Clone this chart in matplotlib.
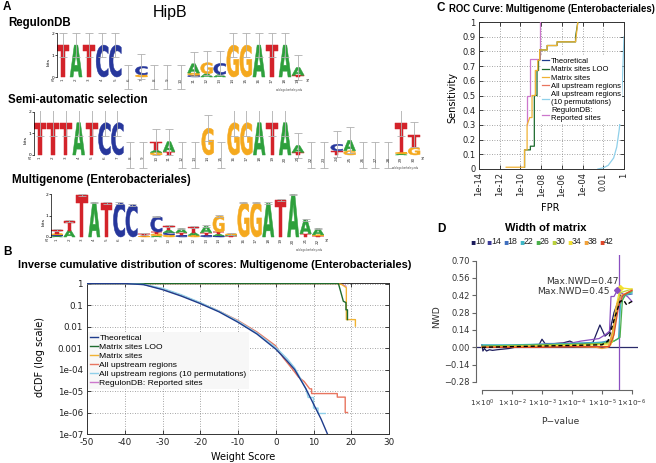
import numpy as np
import matplotlib
matplotlib.use('Agg')
import matplotlib.pyplot as plt
from matplotlib.textpath import TextPath
from matplotlib.patches import PathPatch
from matplotlib.font_manager import FontProperties
from matplotlib.transforms import Affine2D
from matplotlib.lines import Line2D

plt.rcParams['axes.unicode_minus'] = False
plt.rcParams['font.family'] = ['DejaVu Sans']

# ---------------- data ----------------
# Panel A: sequence logos, stacks listed bottom -> top as (letter, bits)
regulondb_stacks = [
    [("T", 1.45)], [("A", 1.45)], [("T", 1.45)], [("C", 1.45)], [("C", 1.45)],
    [], [("G", 0.1), ("C", 0.38)], [], [], [],
    [("C", 0.08), ("G", 0.1), ("A", 0.42)], [("A", 0.15), ("G", 0.5)], [("A", 0.12), ("C", 0.5)],
    [("G", 1.45)], [("G", 1.45)], [("A", 1.45)], [("T", 1.45)], [("A", 1.45)],
    [("T", 0.08), ("A", 0.35)],
]
regulondb_err = 0.55

semi_stacks = [
    [("T", 1.5)], [("T", 1.5)], [("T", 1.5)], [("A", 1.5)], [("T", 1.5)], [("C", 1.5)], [("C", 1.5)],
    [], [], [("G", 0.12), ("A", 0.1), ("T", 0.4)], [("T", 0.15), ("A", 0.47)], [], [],
    [("G", 1.25)], [], [("G", 1.5)], [("G", 1.5)], [("A", 1.5)], [("T", 1.5)], [("A", 1.5)],
    [("T", 0.12), ("A", 0.32)], [], [], [("T", 0.2), ("C", 0.3)], [("G", 0.2), ("A", 0.48)],
    [], [], [], [("A", 0.05), ("G", 0.08), ("T", 1.35)], [("G", 0.35), ("T", 0.6)],
]
semi_err = 0.6

multi_stacks = [
    [("A", 0.05), ("C", 0.05), ("G", 0.05), ("T", 0.18)],
    [("A", 0.3), ("T", 0.45)],
    [("T", 1.95)], [("A", 1.6)], [("T", 1.58)], [("C", 1.58)], [("C", 1.5)],
    [("G", 0.05), ("T", 0.1)],
    [("A", 0.05), ("G", 0.1), ("T", 0.08), ("C", 0.72)],
    [("G", 0.1), ("C", 0.1), ("A", 0.12), ("T", 0.2)],
    [("C", 0.08), ("T", 0.12), ("A", 0.2)],
    [("G", 0.08), ("A", 0.12), ("T", 0.25)],
    [("C", 0.08), ("T", 0.12), ("A", 0.3)],
    [("C", 0.05), ("A", 0.08), ("T", 0.1), ("G", 0.75)],
    [("T", 0.05), ("A", 0.05), ("G", 0.05)],
    [("G", 1.6)], [("G", 1.6)], [("A", 1.57)], [("T", 1.72)], [("A", 1.98)],
    [("T", 0.15), ("A", 0.65)],
    [("T", 0.05), ("G", 0.05), ("A", 0.3)],
]
multi_err = 0.04

# Panel B: inverse cumulative distribution (dCDF)
theo_score = [-50, -40, -35, -30, -25, -20, -15, -10, -5, 0, 3, 5, 8, 10, 12, 13.7]
theo_dcdf = [1.0, 1.0, 0.89, 0.52, 0.26, 0.117, 0.048, 0.0158, 0.0045, 8.9e-4, 2.5e-4,
             1.0e-4, 1.26e-5, 2.5e-6, 5e-7, 1e-7]
loo_score = [-50, 16.6, 17.2, 17.9, 18.6, 18.6, 19.0, 19.0]
loo_dcdf = [1.0, 1.0, 0.42, 0.15, 0.13, 0.06, 0.06, 0.021]
matrix_score = [-50, 16.1, 17.5, 18.7, 18.7, 21.1, 21.1]
matrix_dcdf = [1.0, 1.0, 0.9, 0.64, 0.021, 0.021, 0.0105]
upstream_score = [-50, -40, -35, -30, -25, -20, -15, -10, -5, 0, 2, 4.5, 6, 7.5, 9, 9.5, 9.5,
                  16.3, 16.3, 18.4, 18.4, 19]
upstream_dcdf = [1.0, 1.0, 0.91, 0.56, 0.28, 0.126, 0.052, 0.019, 0.0056, 1.26e-3, 3.5e-4,
                 1e-4, 4.5e-5, 2.8e-5, 1.26e-5, 1.26e-5, 7.6e-6, 7.6e-6, 5.2e-6, 5.2e-6, 1e-6, 1e-6]
perm_score = [-50, -40, -35, -30, -25, -20, -15, -10, -5, 0, 3, 5, 6.5, 8, 8.6, 10, 10,
              11.2, 11.2, 13.1]
perm_dcdf = [1.0, 1.0, 0.91, 0.6, 0.3, 0.13, 0.052, 0.0178, 0.005, 1.07e-3, 3.2e-4, 1.2e-4,
             4e-5, 1.26e-5, 5e-6, 5e-6, 1.6e-6, 1.6e-6, 9e-7, 9e-7]
reg_score = [-50, 17.5, 18.2, 18.6]
reg_dcdf = [1.0, 1.0, 0.8, 0.75]
b_labels = ["Theoretical", "Matrix sites LOO", "Matrix sites", "All upstream regions",
            "All upstream regions (10 permutations)", "RegulonDB: Reported sites"]
b_xticks = [-50, -40, -30, -20, -10, 0, 10, 20, 30]
b_yticks = [1, 0.1, 0.01, 0.001, 1e-4, 1e-5, 1e-6, 1e-7]
b_yticklabels = ["1", "0.1", "0.01", "0.001", "1e-04", "1e-05", "1e-06", "1e-07"]

# Panel C: ROC curve
roc_matrix_fpr = [4.2e-12, 2.5e-10, 2.5e-10, 4.4e-10, 4.4e-10, 7.9e-10, 1.32e-9, 1.32e-9,
                  2.75e-9, 2.75e-9, 4.7e-9, 4.7e-9, 7.2e-9, 7.2e-9, 3.8e-8, 3.8e-8,
                  3.5e-7, 3.5e-7, 2.1e-5, 3.5e-5]
roc_matrix_sens = [0.012, 0.012, 0.13, 0.13, 0.3, 0.35, 0.35, 0.5, 0.5, 0.67, 0.67, 0.74,
                   0.74, 0.81, 0.81, 0.84, 0.84, 0.865, 0.865, 1.0]
roc_loo_fpr = [2.5e-10, 2.5e-10, 9.1e-10, 9.1e-10, 2.2e-9, 2.2e-9, 4.0e-9, 4.0e-9, 5.6e-9,
               5.6e-9, 7.2e-9, 7.2e-9, 3.8e-8, 3.8e-8, 3.5e-7, 3.5e-7, 2.1e-5, 2.1e-5, 3.5e-5]
roc_loo_sens = [0.012, 0.13, 0.13, 0.155, 0.155, 0.5, 0.5, 0.67, 0.67, 0.74, 0.74, 0.81, 0.81,
                0.84, 0.84, 0.865, 0.865, 0.9, 1.0]
roc_reg_fpr = [4.4e-10, 4.4e-10, 8.9e-10, 8.9e-10, 7.2e-9, 7.2e-9]
roc_reg_sens = [0.3, 0.5, 0.5, 0.75, 0.75, 1.0]
roc_perm_fpr = [0.003, 0.01, 0.03, 0.1, 0.2, 0.35, 0.5, 0.7, 1.0]
roc_perm_sens = [0.0, 0.008, 0.025, 0.075, 0.15, 0.27, 0.4, 0.6, 0.9]
c_labels = ["Theoretical", "Matrix sites LOO", "Matrix sites", "All upstream regions",
            "All upstream regions\n(10 permutations)", "RegulonDB:\nReported sites"]
c_xticks = [1e-14, 1e-12, 1e-10, 1e-8, 1e-6, 1e-4, 1e-2, 1]
c_xticklabels = ["1e-14", "1e-12", "1e-10", "1e-08", "1e-06", "1e-04", "0.01", "1"]
c_yticks = [0, 0.1, 0.2, 0.3, 0.4, 0.5, 0.6, 0.7, 0.8, 0.9, 1]
c_yticklabels = ["0", "0.1", "0.2", "0.3", "0.4", "0.5", "0.6", "0.7", "0.8", "0.9", "1"]

# Panel D: NWD vs P-value per matrix width
d_widths = [10, 14, 18, 22, 26, 30, 34, 38, 42]
d_t = {
    10: [0, 0.03, 0.08, 0.15, 0.25, 0.35, 0.5, 0.7, 0.9, 1.1, 1.4, 1.7, 1.9, 2.0, 2.1, 2.4, 2.7,
         2.93, 3.1, 3.4, 3.7, 3.93, 4.1, 4.25, 4.4, 4.55, 4.62],
    14: [0, 0.5, 1, 1.5, 2, 2.5, 3, 3.3, 3.6, 3.9, 4.1, 4.25, 4.3, 4.4, 4.51, 4.7, 4.85, 5.0],
    18: [0, 1, 2, 3, 3.5, 4, 4.3, 4.45, 4.6, 4.75, 5.0],
    22: [0, 1, 2, 3, 4, 4.4, 4.55, 4.62, 4.75, 5.0],
    26: [0, 1, 2, 3, 4, 4.4, 4.6, 4.68, 4.8, 5.0],
    30: [0, 1, 2, 3, 4, 4.35, 4.5, 4.6, 5.0],
    34: [0, 1, 2, 3, 4, 4.3, 4.45, 4.6, 5.0],
    38: [0, 1, 2, 3, 3.8, 4.0, 4.2, 4.35, 4.5, 4.65, 5.0],
    42: [0, 1, 2, 3, 4, 4.25, 4.4, 4.55, 4.7, 5.0],
}
d_nwd = {
    10: [0.02, -0.03, -0.01, -0.03, -0.02, -0.025, -0.02, -0.015, -0.01, 0.0, 0.005, 0.015, 0.02,
         0.065, 0.03, 0.03, 0.035, 0.05, 0.03, 0.03, 0.04, 0.18, 0.09, 0.12, 0.28, 0.38, 0.42],
    14: [0.01, 0.01, 0.015, 0.02, 0.025, 0.03, 0.035, 0.05, 0.06, 0.07, 0.1, 0.13, 0.41, 0.41,
         0.46, 0.43, 0.41, 0.37],
    18: [0.0, 0.01, 0.02, 0.03, 0.035, 0.04, 0.06, 0.25, 0.40, 0.42, 0.43],
    22: [0.02, 0.02, 0.025, 0.03, 0.04, 0.05, 0.07, 0.35, 0.42, 0.44],
    26: [0.01, 0.015, 0.02, 0.025, 0.03, 0.05, 0.08, 0.38, 0.43, 0.45],
    30: [0.005, 0.01, 0.015, 0.02, 0.025, 0.04, 0.3, 0.44, 0.47],
    34: [0.0, 0.005, 0.01, 0.015, 0.02, 0.02, 0.3, 0.48, 0.47],
    38: [0.0, 0.0, 0.005, 0.005, 0.0, -0.01, 0.0, 0.12, 0.35, 0.42, 0.46],
    42: [0.0, 0.0, 0.0, 0.005, 0.005, 0.005, 0.1, 0.33, 0.42, 0.46],
}
d_colors = {10: '#1c1c5c', 14: '#8a4fc0', 18: '#3f6fbf', 22: '#3fb7c7', 26: '#4bb04b',
            30: '#b9d13c', 34: '#f2e02f', 38: '#f2a23a', 42: '#e0482a'}
d_legend_colors = {10: '#1c1c5c', 14: '#3b3b9a', 18: '#3f6fbf', 22: '#3fb7c7', 26: '#4bb04b',
                   30: '#b9d13c', 34: '#f2e02f', 38: '#f2a23a', 42: '#e0482a'}
d_mean_t = [0, 1, 2, 3, 4, 4.2, 4.4, 4.6, 4.72, 4.83, 4.92, 5.0]
d_mean_nwd = [0.0, 0.005, 0.01, 0.015, 0.02, 0.05, 0.22, 0.37, 0.38, 0.34, 0.36, 0.37]
d_max_points = [(4.6, 0.48, '#f2e02f', "Max.NWD=0.47"), (4.51, 0.46, '#8a4fc0', "Max.NWD=0.45")]
d_best_t = 4.57
d_xtick_pos = [0, 1, 2, 3, 4, 5]
d_xtick_exp = [0, -2, -3, -4, -5, -6]
d_yticks = [-0.28, -0.14, 0.0, 0.14, 0.28, 0.42, 0.56, 0.70]

# ---------------- figure ----------------
W, H = 656, 463
fig = plt.figure(figsize=(W / 100, H / 100), dpi=100)


def px_axes(x0, y0, x1, y1):
    return fig.add_axes([x0 / W, 1 - y1 / H, (x1 - x0) / W, (y1 - y0) / H])


def ftext(x, y, s, **kw):
    return fig.text(x / W, 1 - y / H, s, **kw)


ARIAL = 'Liberation Sans'
NARROW = dict(family=ARIAL)

LOGO_COLORS = {'A': '#2ea03c', 'C': '#27379c', 'G': '#f5a91e', 'T': '#d3232a'}
letter_fp = FontProperties(family='DejaVu Sans', weight='bold')
_paths = {}


def letter_path(ch):
    if ch not in _paths:
        _paths[ch] = TextPath((0, 0), ch, size=1, prop=letter_fp)
    return _paths[ch]


def draw_logo(ax, stacks, err, npos_label_size=3.0):
    for i, stack in enumerate(stacks, start=1):
        base = 0.0
        for ch, h in stack:
            p = letter_path(ch)
            ext = p.get_extents()
            tr = (Affine2D().translate(-ext.x0, -ext.y0)
                  .scale(0.92 / ext.width, h / ext.height).translate(i - 0.46, base))
            ax.add_patch(PathPatch(tr.transform_path(p), facecolor=LOGO_COLORS[ch],
                                   edgecolor=LOGO_COLORS[ch], linewidth=0.35, zorder=2))
            base += h
        ax.errorbar([i], [base], yerr=[err], fmt='none', ecolor='#b0b0b0', elinewidth=0.6,
                    capsize=2.6, capthick=0.6, zorder=3)
        ax.text(i, -0.06, str(i), rotation=90, ha='center', va='top',
                fontsize=npos_label_size, color='#333333', zorder=4)
    n = len(stacks)
    ax.set_xlim(0.55, n + 0.6)
    ax.set_ylim(-0.7, 2.05)
    for s in ['top', 'right', 'bottom']:
        ax.spines[s].set_visible(False)
    ax.spines['left'].set_bounds(0, 2)
    ax.spines['left'].set_linewidth(0.5)
    ax.set_xticks([])
    ax.set_yticks([0, 1, 2])
    ax.set_yticklabels(['0', '1', '2'])
    ax.tick_params(axis='y', labelsize=3.2, length=1.5, width=0.5, pad=0.5)
    ax.set_ylabel('bits', fontsize=3.2, labelpad=0.5)
    ax.text(0.35, -0.1, "5'", fontsize=3.2, ha='right', va='top')
    ax.text(n + 0.55, -0.1, "3'", fontsize=3.2, ha='left', va='top')
    ax.text(n + 0.4, -0.5, "weblogo.berkeley.edu", fontsize=1.8, ha='right', va='top',
            color='#444444')
    ax.patch.set_visible(False)


# ---- Panel A ----
ftext(7, 7, "A", fontsize=8.5, weight='bold', family=ARIAL, ha='center', va='center')
ftext(170, 12, "HipB", fontsize=11.5, family=ARIAL, ha='center', va='center')
ftext(8, 23, "RegulonDB", fontsize=8.3, weight='bold', family=ARIAL, ha='left', va='center')
ftext(8, 100, "Semi-automatic selection", fontsize=8.3, weight='bold', family=ARIAL,
      ha='left', va='center')
ftext(12, 180, "Multigenome (Enterobacteriales)", fontsize=8.3, weight='bold', family=ARIAL,
      ha='left', va='center')

sp1 = 13.06
axL1 = px_axes(63 - 0.45 * sp1, 33 - 0.05 * 22, 63 + 18.6 * sp1, 77 + 0.7 * 22)
draw_logo(axL1, regulondb_stacks, regulondb_err)
sp2 = 12.9
axL2 = px_axes(40 - 0.45 * sp2, 112 - 0.05 * 21.5, 40 + 29.6 * sp2, 155 + 0.7 * 21.5)
draw_logo(axL2, semi_stacks, semi_err)
sp3 = 12.43
axL3 = px_axes(57 - 0.45 * sp3, 194 - 0.05 * 21.5, 57 + 21.6 * sp3, 237 + 0.7 * 21.5)
draw_logo(axL3, multi_stacks, multi_err)

# ---- Panel B ----
ftext(7, 252, "B", fontsize=8.5, weight='bold', family=ARIAL, ha='center', va='center')
ftext(215, 265, "Inverse cumulative distribution of scores: Multigenome (Enterobacteriales)",
      fontsize=7.9, weight='bold', family=ARIAL, ha='center', va='center')
axB = px_axes(87, 283, 389, 434)
axB.set_yscale('log')
b_colors = ['#1f3c8c', '#1e6b2e', '#f0b233', '#e8755f', '#8fd0ea', '#cc77cc']
lw = 1.0
axB.plot(theo_score, theo_dcdf, color=b_colors[0], lw=lw, label=b_labels[0], zorder=5)
axB.plot(loo_score, loo_dcdf, color=b_colors[1], lw=lw, label=b_labels[1], zorder=4)
axB.plot(matrix_score, matrix_dcdf, color=b_colors[2], lw=lw, label=b_labels[2], zorder=3)
axB.plot(upstream_score, upstream_dcdf, color=b_colors[3], lw=lw, label=b_labels[3], zorder=3)
axB.plot(perm_score, perm_dcdf, color=b_colors[4], lw=lw, label=b_labels[4], zorder=4)
axB.plot(reg_score, reg_dcdf, color=b_colors[5], lw=lw, label=b_labels[5], zorder=2)
axB.set_xlim(-50, 30)
axB.set_ylim(1e-7, 1.06)
axB.set_xticks(b_xticks)
axB.set_xticklabels([str(v) for v in b_xticks])
axB.set_yticks(b_yticks)
axB.set_yticklabels(b_yticklabels)
axB.minorticks_off()
axB.tick_params(direction='in', top=True, right=True, labelsize=6.3, length=3, width=0.6,
                pad=3, colors='#222222')
axB.grid(True, which='major', color='#888888', linestyle=(0, (1, 2)), linewidth=0.6)
for s in axB.spines.values():
    s.set_linewidth(0.7)
    s.set_color('#333333')
axB.set_xlabel("Weight Score", fontsize=7)
axB.set_ylabel("dCDF (log scale)", fontsize=7)
axB.xaxis.set_label_coords(0.517, -0.155)
axB.yaxis.set_label_coords(-0.156, 0.51)
axB.xaxis.label.set_va('center')
axB.yaxis.label.set_va('center')
legB = axB.legend(loc='upper left', bbox_to_anchor=(0.0, 0.68), frameon=True,
                  facecolor='#f7f7f7', edgecolor='none', framealpha=1, fancybox=False,
                  prop=dict(size=6.1, **NARROW), handlelength=0.9, handletextpad=0.2,
                  labelspacing=0.12, borderpad=0.25, borderaxespad=0.1)
legB.set_zorder(10)

# ---- Panel C ----
ftext(441, 8, "C", fontsize=8.5, weight='bold', family=ARIAL, ha='center', va='center')
ftext(552, 9, "ROC Curve: Multigenome (Enterobacteriales)", fontsize=6.9, weight='bold',
      family=ARIAL, ha='center', va='center')
axC = px_axes(479, 22, 624, 169)
axC.set_xscale('log')
axC.plot(roc_perm_fpr, roc_perm_sens, color=b_colors[4], lw=0.9, zorder=3)
axC.plot(roc_reg_fpr, roc_reg_sens, color=b_colors[5], lw=0.9, zorder=3)
axC.plot(roc_loo_fpr, roc_loo_sens, color=b_colors[1], lw=0.9, zorder=4)
axC.plot(roc_matrix_fpr, roc_matrix_sens, color=b_colors[2], lw=0.9, zorder=5)
axC.set_xlim(1e-14, 1)
axC.set_ylim(0, 1)
axC.set_xticks(c_xticks)
axC.set_xticklabels(c_xticklabels, rotation=90)
axC.set_yticks(c_yticks)
axC.set_yticklabels(c_yticklabels)
axC.minorticks_off()
axC.tick_params(direction='in', top=True, right=True, labelsize=6, length=3, width=0.6,
                pad=2.5, colors='#222222')
axC.grid(True, which='major', color='#888888', linestyle=(0, (1, 2)), linewidth=0.6)
for s in axC.spines.values():
    s.set_linewidth(0.7)
    s.set_color('#333333')
axC.set_xlabel("FPR", fontsize=7)
axC.set_ylabel("Sensitivity", fontsize=7)
axC.xaxis.set_label_coords(0.49, -0.265)
axC.yaxis.set_label_coords(-0.186, 0.486)
axC.xaxis.label.set_va('center')
axC.yaxis.label.set_va('center')
c_handles = [Line2D([], [], color=c, lw=0.9) for c in b_colors]
legC = axC.legend(c_handles, c_labels, loc='upper left', bbox_to_anchor=(0.425, 0.77),
                  frameon=True, facecolor='white', edgecolor='none', framealpha=1,
                  fancybox=False, prop=dict(size=5.5, **NARROW), handlelength=0.95,
                  handletextpad=0.2, labelspacing=0.15, borderpad=0.2, borderaxespad=0.0)
legC.set_zorder(10)

# ---- Panel D ----
ftext(441, 229, "D", fontsize=8.5, weight='bold', family=ARIAL, ha='center', va='center')
ftext(546, 228, "Width of matrix", fontsize=8, weight='bold', family=ARIAL, ha='center',
      va='center')
for k, w in enumerate(d_widths):
    x0 = 471.7 + k * 16.1
    ftext(x0 + 1.5, 242, "\u25AA", fontsize=5.5, color=d_legend_colors[w], ha='center',
          va='center')
    ftext(x0 + 3.5, 242, str(w), fontsize=6.3, ha='left', va='center', color='#222222',
          **NARROW)

axD = px_axes(476, 255, 638, 390)
axD.axhline(0, color='#2a2a6a', lw=0.9, zorder=1)
axD.axvline(d_best_t, color='#8a4fc0', lw=0.9, zorder=1)
for w in d_widths:
    axD.plot(d_t[w], d_nwd[w], color=d_colors[w], lw=0.9, zorder=3)
axD.plot(d_mean_t, d_mean_nwd, color='black', lw=1.0, linestyle=(0, (3, 2)), zorder=6)
for tx, ty, col, lab in d_max_points:
    axD.plot([tx], [ty], marker='D', markersize=3, color=col, zorder=7)
axD.text(4.57, 0.535, d_max_points[0][3], fontsize=6.6, ha='right', va='center',
         color='#333333')
axD.text(4.27, 0.45, d_max_points[1][3], fontsize=6.6, ha='right', va='center',
         color='#333333')
axD.set_xlim(-0.2, 5.2)
axD.set_ylim(-0.345, 0.745)
axD.spines['top'].set_visible(False)
axD.spines['right'].set_visible(False)
axD.spines['left'].set_bounds(-0.28, 0.70)
axD.spines['bottom'].set_bounds(0, 5)
for s in ['left', 'bottom']:
    axD.spines[s].set_color('#666666')
    axD.spines[s].set_linewidth(0.8)
axD.set_yticks(d_yticks)
axD.set_yticklabels(["\u2212%.2f" % abs(v) if v < 0 else "%.2f" % v for v in d_yticks])
axD.set_xticks(d_xtick_pos)
axD.set_xticklabels([r"$1{\times}10^{%d}$" % e for e in d_xtick_exp])
axD.tick_params(direction='out', labelsize=6, length=3, width=0.8, color='#666666',
                labelcolor='#333333', pad=1.5)
axD.tick_params(axis='x', labelsize=5.2, pad=2.5)
axD.set_xlabel("P\u2212value", fontsize=6.6, color='#333333')
axD.set_ylabel("NWD", fontsize=6.6, color='#333333')
axD.xaxis.set_label_coords(0.52, -0.237)
axD.yaxis.set_label_coords(-0.24, 0.54)
axD.xaxis.label.set_va('center')
axD.yaxis.label.set_va('center')
axD.patch.set_visible(False)

fig.savefig("out.png", dpi=100)
